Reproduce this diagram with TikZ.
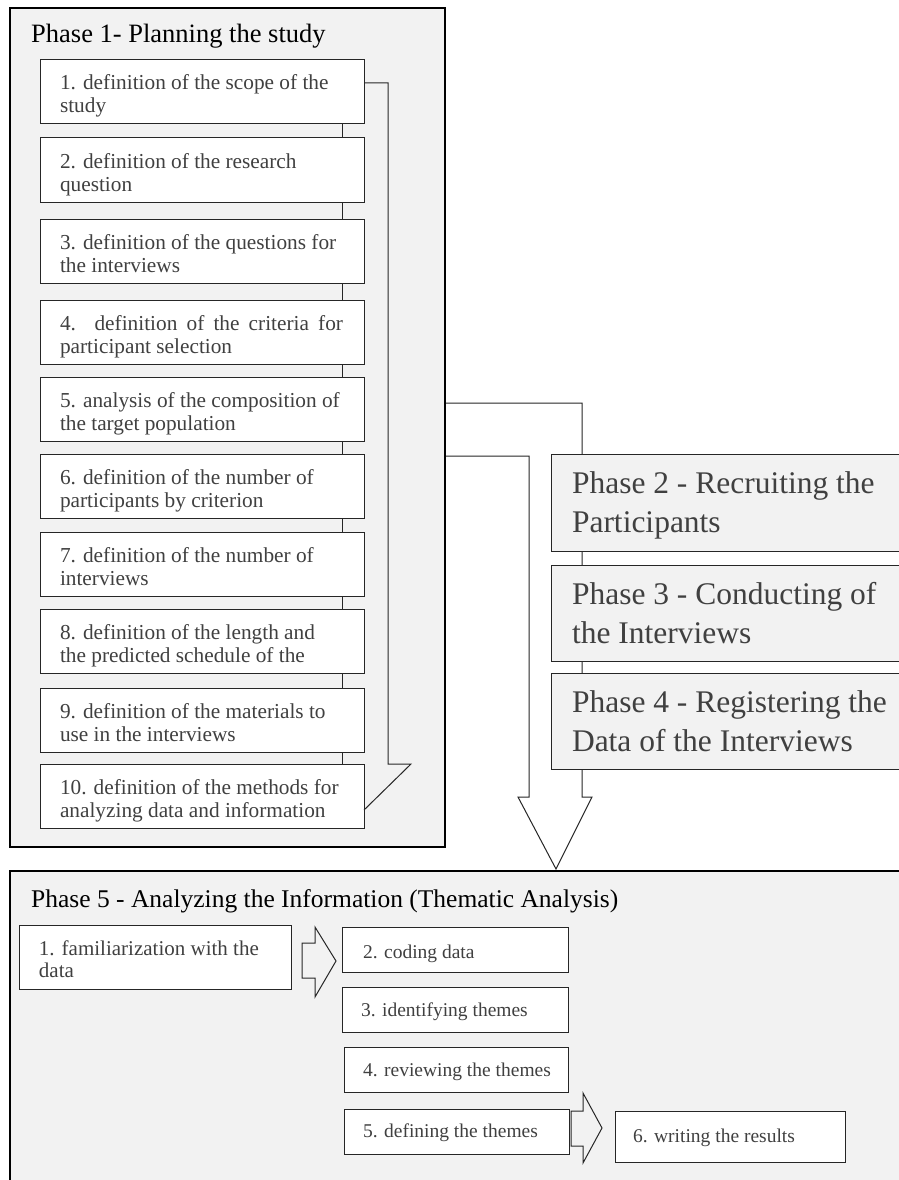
\documentclass[tikz,border=0pt]{standalone}
\usepackage{fontspec}
\setmainfont{Liberation Serif}
\usetikzlibrary{calc}
\definecolor{bg}{HTML}{F2F2F2}
\definecolor{txt}{HTML}{404040}
\definecolor{ln}{HTML}{262626}
% #1 width, #2 height, #3 left pad, #4 first baseline, #5 text
\newcommand{\stepcell}[5]{\parbox[c][#2][t]{#1}{\leftskip=#3\relax\rightskip=0pt plus 1fil\relax\parfillskip=0pt plus 1fil\relax\rule{0pt}{#4}#5\par}}
\tikzset{
  stepbox/.style={draw=ln, line width=1pt, fill=white, inner sep=0pt, outer sep=0pt, anchor=north west, text=txt, font=\fontsize{21.3}{23}\selectfont},
  smallbox/.style={stepbox, font=\fontsize{19.5}{22}\selectfont},
  phasebox/.style={draw=ln, line width=1pt, fill=bg, inner sep=0pt, outer sep=0pt, anchor=north west, text=txt, font=\fontsize{31.5}{39}\selectfont},
  frame/.style={draw=black, line width=2.5pt, fill=bg, inner sep=0pt, outer sep=0pt, anchor=north west},
  link/.style={draw=ln, line width=1pt},
  blockarrow/.style={draw=ln, line width=1pt, line join=miter},
  title/.style={anchor=base west, inner sep=0pt, text=black, font=\fontsize{26.5}{30}\selectfont}
}
\begin{document}
\begin{tikzpicture}[x=1pt,y=-1pt]
\useasboundingbox (0,0) rectangle (899,1180);
\fill[white] (0,0) rectangle (899,1180);

% big arrow from phase 1 down to phase 5 (behind phase 2-4)
\draw[blockarrow, fill=white] (445,403) -- (582,403) -- (582,797) -- (592,797) -- (556,869) -- (518,797) -- (529,797) -- (529,456) -- (445,456);

% frames
\node[frame, minimum width=435pt, minimum height=839pt] (ph1) at (10,8) {};
\node[frame, minimum width=900pt, minimum height=330pt] (ph5) at (10,871) {};

\node[title] (t1) at (31,43) {Phase 1- Planning the study};
\node[title, font=\fontsize{25.5}{30}\selectfont] (t5) at (31,907) {Phase 5 - Analyzing the Information (Thematic Analysis)};

% phase 1 steps
\node[stepbox] (s1) at (40,60) {\stepcell{324pt}{64pt}{20pt}{30pt}{1. definition of the scope of the\\study}};
\node[stepbox] (s2) at (40,138) {\stepcell{324pt}{64pt}{20pt}{30pt}{2. definition of the research\\question}};
\node[stepbox] (s3) at (40,219) {\stepcell{324pt}{64pt}{20pt}{30pt}{3. definition of the questions for\\the interviews}};
\node[stepbox] (s4) at (40,300) {\stepcell{324pt}{64pt}{20pt}{30pt}{\makebox[283pt][s]{4. definition of the criteria for}\\participant selection}};
\node[stepbox] (s5) at (40,377) {\stepcell{324pt}{64pt}{20pt}{30pt}{5. analysis of the composition of\\the target population}};
\node[stepbox] (s6) at (40,454) {\stepcell{324pt}{64pt}{20pt}{30pt}{6. definition of the number of\\participants by criterion}};
\node[stepbox] (s7) at (40,532) {\stepcell{324pt}{64pt}{20pt}{30pt}{7. definition of the number of\\interviews}};
\node[stepbox] (s8) at (40,609) {\stepcell{324pt}{64pt}{20pt}{30pt}{8. definition of the length and\\the predicted schedule of the}};
\node[stepbox] (s9) at (40,688) {\stepcell{324pt}{64pt}{20pt}{30pt}{9. definition of the materials to\\use in the interviews}};
\node[stepbox] (s10) at (40,764) {\stepcell{324pt}{64pt}{20pt}{30pt}{10. definition of the methods for\\analyzing data and information}};

\foreach \i in {1,...,9} {
  \pgfmathtruncatemacro{\j}{\i+1}
  \draw[link] ($(s\i.south west)+(302,0)$) -- ($(s\j.north west)+(302,0)$);
}
% bent arrow along the steps
\draw[blockarrow] ($(s1.north east)+(0,23)$) -| ($(s10.north east)+(24,0)$) -- ++(23,0) -- ($(s10.north east)+(0,46)$);

% phases 2-4
\node[phasebox, minimum width=360pt] (p2) at (551,454) {\stepcell{360pt}{97pt}{21pt}{39pt}{Phase 2 - Recruiting the\\Participants}};
\node[phasebox, minimum width=360pt] (p3) at (551,565) {\stepcell{360pt}{96pt}{21pt}{39pt}{Phase 3 - Conducting of\\the Interviews}};
\node[phasebox, minimum width=360pt] (p4) at (551,673) {\stepcell{360pt}{96pt}{21pt}{39pt}{Phase 4 - Registering the\\Data of the Interviews}};

% phase 5 steps
\node[stepbox, font=\fontsize{21}{22}\selectfont] (f1) at (19,925) {\stepcell{272pt}{64pt}{20pt}{30pt}{1. familiarization with the\\data}};
\node[smallbox] (f2) at (342,927) {\stepcell{226pt}{45pt}{21pt}{31pt}{2. coding data}};
\node[smallbox] (f3) at (342,987) {\stepcell{226pt}{45pt}{19pt}{29pt}{3. identifying themes}};
\node[smallbox] (f4) at (344,1047) {\stepcell{224pt}{45pt}{19pt}{29pt}{4. reviewing the themes}};
\node[smallbox] (f5) at (344,1109) {\stepcell{225pt}{45pt}{19pt}{28pt}{5. defining the themes}};
\node[smallbox] (f6) at (615,1111) {\stepcell{230pt}{51pt}{18pt}{31pt}{6. writing the results}};

% block arrows in phase 5
\draw[blockarrow, fill=bg] (302,943) -- (315,943) -- (315,927) -- (336,961) -- (315,997) -- (315,978) -- (302,978) -- cycle;
\draw[blockarrow, fill=bg] (571,1111) -- (583,1111) -- (583,1093) -- (602,1128) -- (583,1163) -- (583,1146) -- (571,1146) -- cycle;
\end{tikzpicture}
\end{document}
